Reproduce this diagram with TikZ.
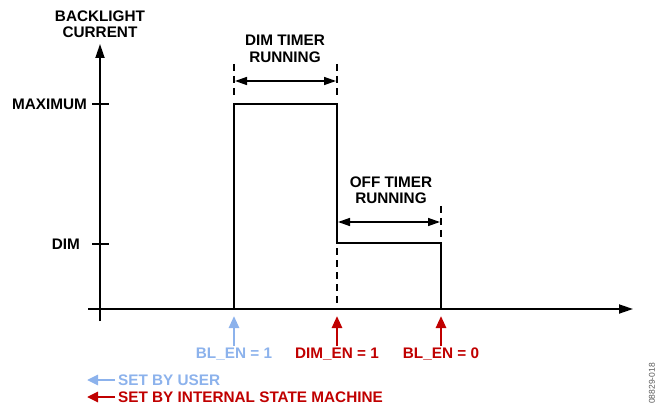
\documentclass[tikz,border=0pt]{standalone}
\usepackage{fontspec}
\setmainfont{Liberation Sans}
\usetikzlibrary{arrows.meta}
\definecolor{userblue}{RGB}{140,178,236}
\definecolor{fsmred}{RGB}{192,0,0}
\definecolor{idgray}{RGB}{90,90,90}
\tikzset{
  lbl/.style={font=\fontsize{15.3}{16.5}\selectfont\bfseries, inner sep=0pt, align=center},
  axisline/.style={line width=1.8pt, -{Triangle[length=14pt,width=9pt]}},
  tickline/.style={line width=1.2pt},
  pulse/.style={line width=2.5pt, line join=miter},
  dashline/.style={line width=1.1pt, dash pattern=on 7pt off 5pt},
  span/.style={line width=1.5pt, {Triangle[length=12pt,width=8pt]}-{Triangle[length=12pt,width=8pt]}},
  evt/.style={line width=2.6pt, -{Triangle[length=12pt,width=10pt]}},
  leg/.style={line width=2.6pt, -{Triangle[length=11pt,width=10pt]}}
}
\begin{document}
\begin{tikzpicture}[x=1pt,y=-1pt]
\useasboundingbox (0,0) rectangle (664,406);
% axes
\coordinate (ybot) at (100,321);
\coordinate (ytop) at (100,44);
\coordinate (xl) at (88,309);
\coordinate (xr) at (633,309);
\draw[axisline] (ybot) -- (ytop);
\draw[axisline] (xl) -- (xr);
\node[lbl] (ylab) at (100,24) {BACKLIGHT\\CURRENT};
% ticks
\coordinate (tmaxl) at (92,104); \coordinate (tmaxr) at (109,104);
\coordinate (tdiml) at (92,244); \coordinate (tdimr) at (109,244);
\draw[tickline] (tmaxl) -- (tmaxr);
\draw[tickline] (tdiml) -- (tdimr);
\node[lbl, anchor=east] (lmax) at (87,104) {MAXIMUM};
\node[lbl, anchor=east] (ldim) at (80,244) {DIM};
% pulse
\coordinate (p0) at (234,309);
\coordinate (p1) at (234,104);
\coordinate (p2) at (337,104);
\coordinate (p3) at (337,243);
\coordinate (p4) at (441,243);
\coordinate (p5) at (441,309);
\draw[pulse] (p0) -- (p1) -- (p2) -- (p3) -- (p4) -- (p5);
% dashed markers
\coordinate (d1a) at (234,64); \coordinate (d1b) at (234,99);
\coordinate (d2a) at (337,64); \coordinate (d2b) at (337,99);
\coordinate (d3a) at (337,248); \coordinate (d3b) at (337,309);
\coordinate (d4a) at (441,206); \coordinate (d4b) at (441,240);
\draw[dashline] (d1a) -- (d1b);
\draw[dashline] (d2a) -- (d2b);
\draw[dashline] (d3a) -- (d3b);
\draw[dashline] (d4a) -- (d4b);
% spans
\coordinate (s1l) at (235,81); \coordinate (s1r) at (336,81);
\coordinate (s2l) at (338,222); \coordinate (s2r) at (440,222);
\draw[span] (s1l) -- (s1r);
\draw[span] (s2l) -- (s2r);
\node[lbl] (dimtimer) at (285,49) {DIM TIMER\\RUNNING};
\node[lbl] (offtimer) at (391,190) {OFF TIMER\\RUNNING};
% events
\coordinate (e1a) at (234,346); \coordinate (e1b) at (234,316);
\coordinate (e2a) at (337,346); \coordinate (e2b) at (337,316);
\coordinate (e3a) at (441,346); \coordinate (e3b) at (441,316);
\draw[evt, userblue] (e1a) -- (e1b);
\draw[evt, fsmred] (e2a) -- (e2b);
\draw[evt, fsmred] (e3a) -- (e3b);
\node[lbl, text=userblue] (ev1) at (234,354) {BL\_EN = 1};
\node[lbl, text=fsmred] (ev2) at (337,354) {DIM\_EN = 1};
\node[lbl, text=fsmred] (ev3) at (441,354) {BL\_EN = 0};
% legend
\coordinate (l1a) at (115,380); \coordinate (l1b) at (87,380);
\coordinate (l2a) at (115,397); \coordinate (l2b) at (87,397);
\draw[leg, userblue] (l1a) -- (l1b);
\draw[leg, fsmred] (l2a) -- (l2b);
\node[lbl, text=userblue, anchor=west] (leg1) at (118,380) {SET BY USER};
\node[lbl, text=fsmred, anchor=west] (leg2) at (118,397) {SET BY INTERNAL STATE MACHINE};
% figure id
\node[font=\fontsize{8.5}{10}\selectfont, text=idgray, rotate=90, inner sep=0pt, anchor=west] (figid) at (652,404) {08829-018};
\end{tikzpicture}
\end{document}
